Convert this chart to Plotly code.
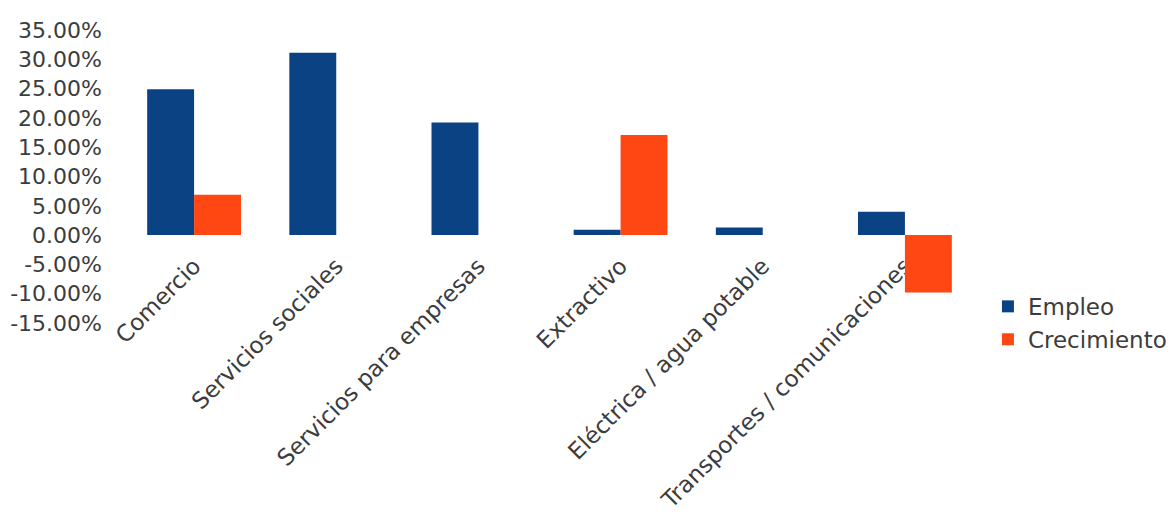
import plotly.graph_objects as go

# Sector categories and the two series (shares as fractions)
sectores = [
    "Comercio",
    "Servicios sociales",
    "Servicios para empresas",
    "Extractivo",
    "Eléctrica / agua potable",
    "Transportes / comunicaciones",
]
empleo = [0.249, 0.311, 0.192, 0.009, 0.013, 0.040]
crecimiento = [0.069, None, None, 0.171, None, -0.098]

# Value axis ticks
y_tick_vals = [0.35, 0.30, 0.25, 0.20, 0.15, 0.10, 0.05, 0.0, -0.05, -0.10, -0.15]
y_tick_text = ["35.00%", "30.00%", "25.00%", "20.00%", "15.00%", "10.00%",
               "5.00%", "0.00%", "-5.00%", "-10.00%", "-15.00%"]

y_min, y_max = -0.15, 0.35

FONT = "DejaVu Sans"
TEXT_COLOR = "#3c3c3c"

fig = go.Figure()
fig.add_trace(go.Bar(name="Empleo", x=sectores, y=empleo,
                     marker=dict(color="#0a4283", line=dict(width=0))))
fig.add_trace(go.Bar(name="Crecimiento", x=sectores, y=crecimiento,
                     marker=dict(color="#ff4714", line=dict(width=0))))

# category axis sits on the zero line
zero_pos = (0 - y_min) / (y_max - y_min)

fig.update_layout(
    width=1172,
    height=523,
    margin=dict(l=123, r=196, t=30, b=200, autoexpand=False),
    paper_bgcolor="white",
    plot_bgcolor="white",
    barmode="group",
    bargap=0.34,
    bargroupgap=0,
    font=dict(family=FONT, color=TEXT_COLOR),
    xaxis=dict(
        anchor="free",
        position=zero_pos,
        tickangle=-45,
        showgrid=False,
        showline=False,
        zeroline=False,
        ticks="",
        ticklabelstandoff=12,
        tickfont=dict(family=FONT, size=23, color=TEXT_COLOR),
        layer="below traces",
    ),
    yaxis=dict(
        range=[y_min, y_max],
        tickvals=y_tick_vals,
        ticktext=y_tick_text,
        showgrid=False,
        showline=False,
        zeroline=False,
        ticks="",
        ticklabelstandoff=20,
        tickfont=dict(family=FONT, size=22, color=TEXT_COLOR),
    ),
    legend=dict(
        x=1.014,
        y=0.13,
        xanchor="left",
        yanchor="top",
        font=dict(family=FONT, size=23, color=TEXT_COLOR),
        bgcolor="rgba(0,0,0,0)",
        itemwidth=30,
        tracegroupgap=0,
    ),
)

fig.write_html("out.html")
